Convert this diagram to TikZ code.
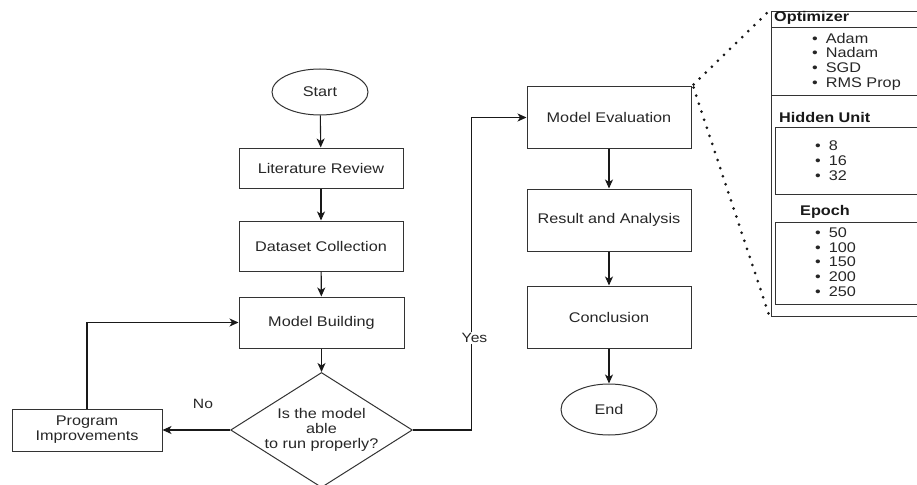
\documentclass[tikz,border=0pt]{standalone}
\usepackage{fontspec}
\setmainfont{Liberation Sans}[FakeStretch=1.16]
\usetikzlibrary{shapes.geometric,arrows.meta}
\newcommand\itm{\textbullet\hspace{8pt}}
\begin{document}
\begin{tikzpicture}[x=1pt,y=-1pt,
  base/.style={draw=black!80, line width=1pt, inner sep=0pt, text=black!85,
    font=\fontsize{14}{15}\selectfont, align=center},
  box/.style={base, rectangle, minimum width=164pt},
  term/.style={base, ellipse, minimum width=96pt},
  decision/.style={base, diamond, minimum width=177pt, minimum height=112pt, aspect=1.58},
  flow/.style={draw=black!90, line width=1.1pt, -{Stealth[length=9pt,width=8pt,inset=2.5pt]}},
  lbl/.style={inner sep=1pt, text=black!85, font=\fontsize{13.5}{15}\selectfont},
  panel/.style={draw=black!80, line width=1pt, rectangle, inner sep=0pt},
  head/.style={inner sep=0pt, anchor=west, text=black!90, font=\bfseries\fontsize{14}{15}\selectfont},
  list/.style={inner sep=0pt, anchor=west, align=left, text=black!85, font=\fontsize{14}{14.7}\selectfont},
  dots/.style={draw=black!90, line width=3pt, line cap=round, dash pattern=on 0pt off 8.5pt}
]
\useasboundingbox (0,0) rectangle (917,484);
\clip (0,0) rectangle (917,484);

% left column
\node[term, minimum height=46pt] (start) at (320,92) {Start};
\node[box, minimum height=40pt] (lit) at (321,168) {Literature Review};
\node[box, minimum height=50pt] (data) at (321,246) {Dataset Collection};
\node[box, minimum height=51pt, minimum width=165pt] (mb) at (321.5,322.5) {Model Building};
\node[decision] (dec) at (321.5,430) {Is the model\\able\\to run properly?};
\node[box, minimum width=150pt, minimum height=42pt] (pi) at (87,430) {Program\\Improvements};

% right column
\node[box, minimum height=61pt] (me) at (609,117.5) {Model Evaluation};
\node[box, minimum height=62pt] (ra) at (609,220) {Result and Analysis};
\node[box, minimum height=62pt] (con) at (609,317) {Conclusion};
\node[term, minimum height=51pt] (end) at (609,409.5) {End};

% connectors
\draw[flow] (start) -- (lit);
\draw[flow] (lit) -- (data);
\draw[flow] (data) -- (mb);
\draw[flow] (mb) -- (dec);
\draw[flow] (dec) -- (pi);
\draw[flow] (pi.north) |- (mb.west);
\draw[flow] (dec.east) -- ++(59,0) |- (me.west);
\draw[flow] (me) -- (ra);
\draw[flow] (ra) -- (con);
\draw[flow] (con) -- (end);

\node[lbl] (no) at (203,404) {No};
\node[lbl, fill=white] (yes) at (474.5,338) {Yes};

% right panel
\node[panel, minimum width=160pt, minimum height=304pt] (outer) at (851,164) {};
\node[panel, minimum width=160pt, minimum height=68pt] (opt) at (851,62) {};
\node[panel, minimum width=156pt, minimum height=67pt] (hid) at (853,160.5) {};
\node[panel, minimum width=156pt, minimum height=82pt] (epo) at (853,263) {};

\node[head] (opth) at (774,18) {Optimizer};
\node[head] (hidh) at (779,117) {Hidden Unit};
\node[head] (epoh) at (800,212) {Epoch};

\node[list] (optl) at (812,61.5) {\itm Adam\\\itm Nadam\\\itm SGD\\\itm RMS Prop};
\node[list] (hidl) at (815,160.5) {\itm 8\\\itm 16\\\itm 32};
\node[list] (epol) at (815,262) {\itm 50\\\itm 100\\\itm 150\\\itm 200\\\itm 250};

\draw[dots] ([shift={(2,-2)}]me.north east) -- ([shift={(-3,1)}]outer.north west);
\draw[dots] ([shift={(2,1)}]me.north east) -- ([shift={(-2,-3)}]outer.south west);
\end{tikzpicture}
\end{document}
